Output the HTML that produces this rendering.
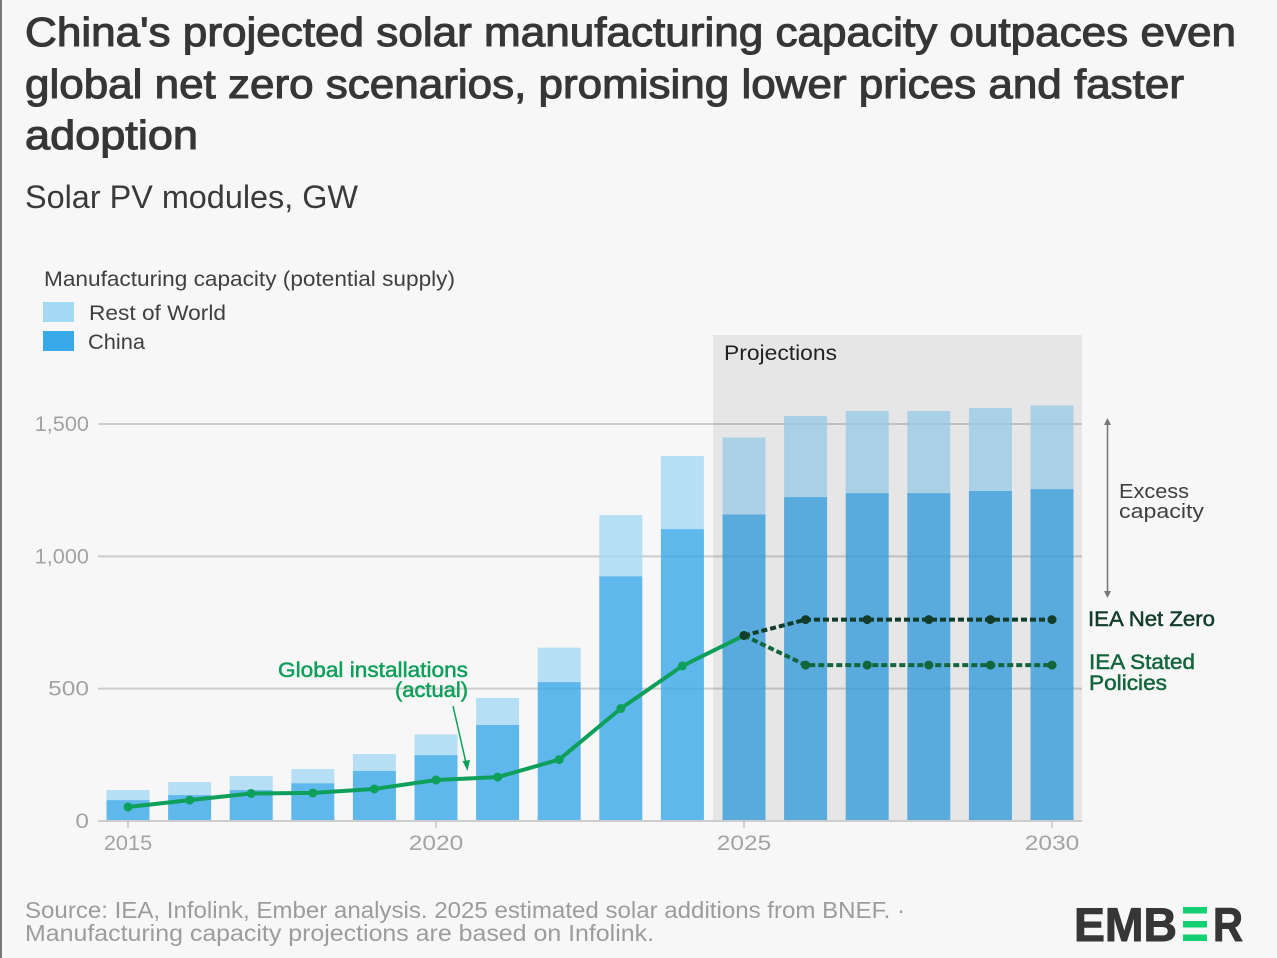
<!DOCTYPE html>
<html lang="en">
<head>
<meta charset="utf-8">
<title>China's projected solar manufacturing capacity</title>
<style>
html,body{margin:0;padding:0;background:#f7f7f7;width:1277px;height:958px;overflow:hidden}
svg{display:block;position:absolute;left:0;top:0}
text{font-family:"Liberation Sans",sans-serif}
</style>
</head>
<body>
<svg id="chart" width="1277" height="958" viewBox="0 0 1277 958">
  <rect x="0" y="0" width="1277" height="958" fill="#f7f7f7"/>
  <rect x="0" y="0" width="2" height="958" fill="#777"/>

  <g fill="#363636" stroke="#363636" stroke-width="1.1" font-size="41">
    <text x="25" y="46" textLength="1211" lengthAdjust="spacingAndGlyphs">China's projected solar manufacturing capacity outpaces even</text>
    <text x="25" y="98" textLength="1159" lengthAdjust="spacingAndGlyphs">global net zero scenarios, promising lower prices and faster</text>
    <text x="25" y="149" textLength="173" lengthAdjust="spacingAndGlyphs">adoption</text>
  </g>
  <text x="25" y="208" font-size="32" fill="#3a3a3a" textLength="333" lengthAdjust="spacingAndGlyphs">Solar PV modules, GW</text>

  <text x="44" y="286" font-size="21" fill="#3f3f3f" textLength="411" lengthAdjust="spacingAndGlyphs">Manufacturing capacity (potential supply)</text>
  <rect x="43" y="302" width="31" height="20" fill="#a5d8f5"/>
  <text x="89" y="320" font-size="21" fill="#3f3f3f" textLength="137" lengthAdjust="spacingAndGlyphs">Rest of World</text>
  <rect x="43" y="331" width="31" height="20" fill="#38a8e8"/>
  <text x="88" y="349" font-size="21" fill="#3f3f3f" textLength="57" lengthAdjust="spacingAndGlyphs">China</text>

  <g id="grid"></g>
  <g id="bars"></g>
  <rect id="projection-band" y="335" height="486" fill="#000" fill-opacity="0.065"/>
  <g id="axes"></g>
  <text x="724" y="360" font-size="21" fill="#222" textLength="113" lengthAdjust="spacingAndGlyphs">Projections</text>
  <g id="lines"></g>

  <g fill="#0e9f5b" stroke="#0e9f5b" stroke-width="0.5" font-size="21">
    <text x="278" y="677" textLength="190" lengthAdjust="spacingAndGlyphs">Global installations</text>
    <text x="395" y="697" textLength="73" lengthAdjust="spacingAndGlyphs">(actual)</text>
  </g>
  <line x1="453" y1="706" x2="466.5" y2="765" stroke="#0e9f5b" stroke-width="1.5"/>
  <polygon points="467.5,771 462.5,761 470,760" fill="#0e9f5b"/>

  <line x1="1107.5" y1="423" x2="1107.5" y2="594" stroke="#777" stroke-width="1.5"/>
  <polygon points="1107.5,418 1104,425 1111,425" fill="#777"/>
  <polygon points="1107.5,598 1104,591 1111,591" fill="#777"/>
  <g fill="#3f3f3f" font-size="20">
    <text x="1119" y="498" textLength="70" lengthAdjust="spacingAndGlyphs">Excess</text>
    <text x="1119" y="518" textLength="85" lengthAdjust="spacingAndGlyphs">capacity</text>
  </g>
  <text x="1088" y="626" font-size="21" stroke="#123d2a" stroke-width="0.5" fill="#123d2a" textLength="127" lengthAdjust="spacingAndGlyphs">IEA Net Zero</text>
  <g fill="#13653c" stroke="#13653c" stroke-width="0.5" font-size="21">
    <text x="1089" y="669" textLength="106" lengthAdjust="spacingAndGlyphs">IEA Stated</text>
    <text x="1089" y="690" textLength="78" lengthAdjust="spacingAndGlyphs">Policies</text>
  </g>

  <g fill="#9c9c9c" font-size="23">
    <text x="25" y="918" textLength="880" lengthAdjust="spacingAndGlyphs">Source: IEA, Infolink, Ember analysis. 2025 estimated solar additions from BNEF. ·</text>
    <text x="25" y="941" textLength="629" lengthAdjust="spacingAndGlyphs">Manufacturing capacity projections are based on Infolink.</text>
  </g>

  <g>
    <title>EMBER</title>
    <text x="1074" y="941" font-size="47" font-weight="bold" fill="#363636" stroke="#363636" stroke-width="1" textLength="103" lengthAdjust="spacingAndGlyphs">EMB</text>
    <rect x="1183" y="907" width="24" height="6.5" fill="#13d173"/>
    <rect x="1183" y="921" width="24" height="6.5" fill="#13d173"/>
    <rect x="1183" y="934.5" width="24" height="6.5" fill="#13d173"/>
    <text x="1213" y="941" font-size="47" font-weight="bold" fill="#363636" stroke="#363636" stroke-width="1" textLength="30" lengthAdjust="spacingAndGlyphs">R</text>
  </g>
</svg>
<script>
const years = [2015,2016,2017,2018,2019,2020,2021,2022,2023,2024,2025,2026,2027,2028,2029,2030];
const chinaCapacity = [79,98,117,143,189,249,363,525,925,1103,1158,1224,1239,1239,1247,1254];
const restOfWorld = [38,49,53,53,64,78,102,130,231,276,291,306,310,310,313,316];
const installationYears = [2015,2016,2017,2018,2019,2020,2021,2022,2023,2024,2025];
const installations = [53,79,104,106,121,155,166,232,425,586,701];
const scenarioYears = [2025,2026,2027,2028,2029,2030];
const netZero = [701,761,761,761,761,761];
const statedPolicies = [701,589,589,589,589,589];
const yTicks = [0,500,1000,1500];
const yTickLabels = ['0','500','1,000','1,500'];
const xTicks = [2015,2020,2025,2030];
const xTickLabels = ['2015','2020','2025','2030'];
const projectionStartYear = 2025;

const NS = 'http://www.w3.org/2000/svg';
const x = yr => 128 + (yr - 2015) * (1052 - 128) / 15;
const y = v => 821 - v * (821 - 424) / 1500;
const BAR_W = 43;
const mk = (tag, parent) => { const e = document.createElementNS(NS, tag); parent.appendChild(e); return e; };
const pointsOf = (xs, vs) => xs.map((yr, i) => x(yr).toFixed(1) + ',' + y(vs[i]).toFixed(1)).join(' ');
const labelWidth = s => [...s].reduce((w, ch) => w + (ch === '1' ? 7.5 : ch === ',' ? 6 : 13.6), 0);

const grid = document.getElementById('grid');
const axes = document.getElementById('axes');
const bars = document.getElementById('bars');
const lines = document.getElementById('lines');

const band = document.getElementById('projection-band');
band.setAttribute('x', x(projectionStartYear) - 31);
band.setAttribute('width', 1082 - (x(projectionStartYear) - 31));

yTicks.forEach((t, i) => {
  const el = mk('line', t === 0 ? axes : grid);
  
  
  el.setAttribute('x1', 98);
  el.setAttribute('x2', 1082);
  el.setAttribute('y1', y(t));
  el.setAttribute('y2', y(t));
  el.setAttribute('stroke', '#cdcdcd');
  el.setAttribute('stroke-width', 2);
  const lab = mk('text', axes);
  
  
  const w = labelWidth(yTickLabels[i]);
  lab.setAttribute('x', 89 - w);
  lab.setAttribute('y', y(t) + 7);
  lab.setAttribute('textLength', w);
  lab.setAttribute('lengthAdjust', 'spacingAndGlyphs');
  lab.setAttribute('font-size', 21);
  lab.setAttribute('fill', '#a3a3a3');
  lab.textContent = yTickLabels[i];
});

xTicks.forEach((t, i) => {
  const tick = mk('line', axes);
  
  
  tick.setAttribute('x1', x(t));
  tick.setAttribute('x2', x(t));
  tick.setAttribute('y1', 821);
  tick.setAttribute('y2', 828);
  tick.setAttribute('stroke', '#c4c4c4');
  tick.setAttribute('stroke-width', 1.5);
  const lab = mk('text', axes);
  
  
  const w = labelWidth(xTickLabels[i]);
  lab.setAttribute('x', x(t) - w / 2);
  lab.setAttribute('y', 850);
  lab.setAttribute('textLength', w);
  lab.setAttribute('lengthAdjust', 'spacingAndGlyphs');
  lab.setAttribute('font-size', 21);
  lab.setAttribute('fill', '#a3a3a3');
  lab.textContent = xTickLabels[i];
});

years.forEach((yr, i) => {
  const c = mk('rect', bars);
  
  
  c.setAttribute('x', x(yr) - BAR_W / 2);
  c.setAttribute('width', BAR_W);
  c.setAttribute('y', y(chinaCapacity[i]));
  c.setAttribute('height', y(0) - y(chinaCapacity[i]));
  c.setAttribute('fill', '#38a8e8');
  c.setAttribute('fill-opacity', 0.8);
  const r = mk('rect', bars);
  
  
  r.setAttribute('x', x(yr) - BAR_W / 2);
  r.setAttribute('width', BAR_W);
  r.setAttribute('y', y(chinaCapacity[i] + restOfWorld[i]));
  r.setAttribute('height', y(chinaCapacity[i]) - y(chinaCapacity[i] + restOfWorld[i]));
  r.setAttribute('fill', '#a5d8f5');
  r.setAttribute('fill-opacity', 0.8);
});

const instLine = mk('polyline', lines);


instLine.setAttribute('points', pointsOf(installationYears, installations));
instLine.setAttribute('fill', 'none');
instLine.setAttribute('stroke', '#0e9f5b');
instLine.setAttribute('stroke-width', 4);
instLine.setAttribute('stroke-linejoin', 'round');

const statedLine = mk('polyline', lines);


statedLine.setAttribute('points', pointsOf(scenarioYears, statedPolicies));
statedLine.setAttribute('fill', 'none');
statedLine.setAttribute('stroke', '#13653c');
statedLine.setAttribute('stroke-width', 4);
statedLine.setAttribute('stroke-dasharray', '6 3');

const nzLine = mk('polyline', lines);


nzLine.setAttribute('points', pointsOf(scenarioYears, netZero));
nzLine.setAttribute('fill', 'none');
nzLine.setAttribute('stroke', '#123d2a');
nzLine.setAttribute('stroke-width', 4);
nzLine.setAttribute('stroke-dasharray', '6 3');

installationYears.forEach((yr, i) => {
  const dot = mk('circle', lines);
  
  
  dot.setAttribute('cx', x(yr));
  dot.setAttribute('cy', y(installations[i]));
  dot.setAttribute('r', 4.5);
  dot.setAttribute('fill', '#0e9f5b');
});

scenarioYears.forEach((yr, i) => {
  if (i === 0) return;
  const s = mk('circle', lines);
  
  
  s.setAttribute('cx', x(yr));
  s.setAttribute('cy', y(statedPolicies[i]));
  s.setAttribute('r', 4.5);
  s.setAttribute('fill', '#13653c');
  const n = mk('circle', lines);
  
  
  n.setAttribute('cx', x(yr));
  n.setAttribute('cy', y(netZero[i]));
  n.setAttribute('r', 4.5);
  n.setAttribute('fill', '#123d2a');
});

const origin = mk('circle', lines);


origin.setAttribute('cx', x(scenarioYears[0]));
origin.setAttribute('cy', y(netZero[0]));
origin.setAttribute('r', 4.5);
origin.setAttribute('fill', '#123d2a');
</script>
</body>
</html>
